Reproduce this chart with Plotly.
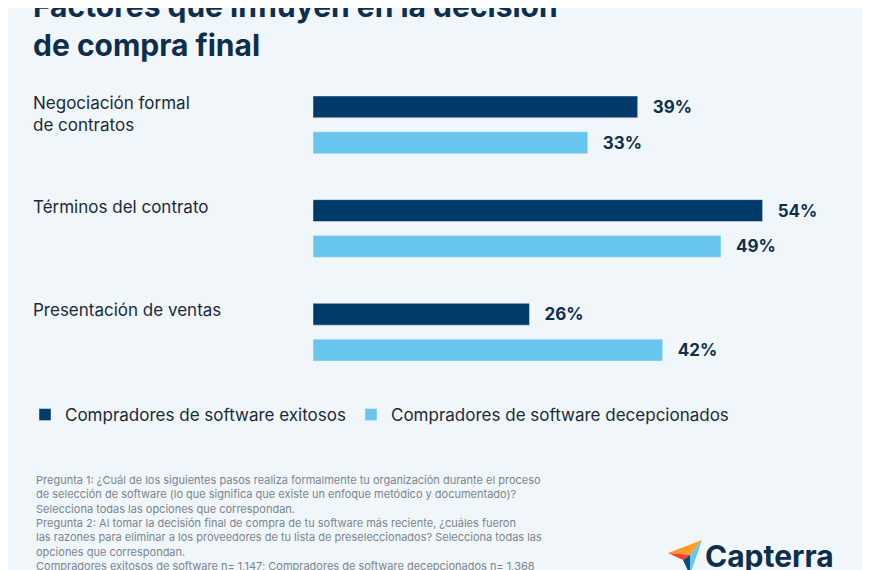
import plotly.graph_objects as go

categorias = ["Negociación formal<br>de contratos", "Términos del contrato", "Presentación de ventas"]
exitosos = [39, 54, 26]
decepcionados = [33, 49, 42]
series = ["Compradores de software exitosos", "Compradores de software decepcionados"]

navy = "#003a6b"
celeste = "#68c5ee"
texto = "#0d2e4e"

W, H, OFF = 870, 570, 8


def px(x):
    return (x - OFF) / W


def py(y):
    return (H - (y - OFF)) / H


fig = go.Figure()
for vals, nombre, color in [(exitosos, series[0], navy), (decepcionados, series[1], celeste)]:
    fig.add_trace(go.Bar(y=categorias, x=vals, orientation="h", name=nombre,
                         marker_color=color, text=[f"   {v}%" for v in vals],
                         textposition="outside", cliponaxis=False,
                         textfont=dict(size=17, color=texto, family="Inter", weight="bold")))

for c in categorias:
    fig.add_annotation(x=px(31), xref="paper", y=c, yref="y", yanchor="top", yshift=34,
                       xanchor="left", align="left", text=c, showarrow=False,
                       font=dict(size=17, color="#1b2a3a", family="Inter"))

fig.add_annotation(x=px(31), xref="paper", y=py(-14), yref="paper", xanchor="left", yanchor="top",
                   align="left", showarrow=False,
                   text="Factores que influyen en la decisión<br>de compra final",
                   font=dict(size=30, color=texto, family="Inter", weight="bold"))

nota = ("Pregunta 1: ¿Cuál de los siguientes pasos realiza formalmente tu organización durante el proceso<br>"
        "de selección de software (lo que significa que existe un enfoque metódico y documentado)?<br>"
        "Selecciona todas las opciones que correspondan.<br>"
        "Pregunta 2: Al tomar la decisión final de compra de tu software más reciente, ¿cuáles fueron<br>"
        "las razones para eliminar a los proveedores de tu lista de preseleccionados? Selecciona todas las<br>"
        "opciones que correspondan.<br>"
        "Compradores exitosos de software n= 1,147; Compradores de software decepcionados n= 1,368")
fig.add_annotation(x=px(34), xref="paper", y=py(471), yref="paper", xanchor="left", yanchor="top",
                   align="left", showarrow=False, text=nota,
                   font=dict(size=11, color="#7a8590", family="Inter"))

# logo Capterra
fig.add_annotation(x=px(703), xref="paper", y=py(556), yref="paper", xanchor="left", yanchor="middle",
                   showarrow=False, text="Capterra",
                   font=dict(size=30, color="#0d2e4e", family="Inter", weight="bold"))
for pts, col in [([(668, 553), (702, 540), (690, 555)], "#ff9d28"),
                 ([(702, 540), (690, 555), (690, 575)], "#68c5ee"),
                 ([(668, 553), (690, 555), (683, 560)], "#ff3d2e"),
                 ([(683, 560), (690, 555), (690, 575)], "#044d80")]:
    path = "M " + " L ".join(f"{px(a)} {py(b)}" for a, b in pts) + " Z"
    fig.add_shape(type="path", xref="paper", yref="paper", line_width=0, fillcolor=col, path=path)

fig.update_layout(
    width=W, height=H, margin=dict(l=0, r=0, t=0, b=0),
    paper_bgcolor="#f1f6fa", plot_bgcolor="#f1f6fa",
    barmode="group", bargap=0.308, bargroupgap=0.39,
    xaxis=dict(domain=[px(313), 1], range=[0, 66.9 * (1 - px(313)) / (1 - 313 / W)], visible=False),
    yaxis=dict(domain=[py(384), py(73)], autorange="reversed", visible=False),
    showlegend=True,
    legend=dict(orientation="h", x=px(25), y=py(415), xanchor="left", yanchor="middle",
                font=dict(size=17, color="#1b2a3a", family="Inter"), itemwidth=30,
                bgcolor="rgba(0,0,0,0)"),
    font=dict(family="Inter"),
)

fig.write_html("out.html")
